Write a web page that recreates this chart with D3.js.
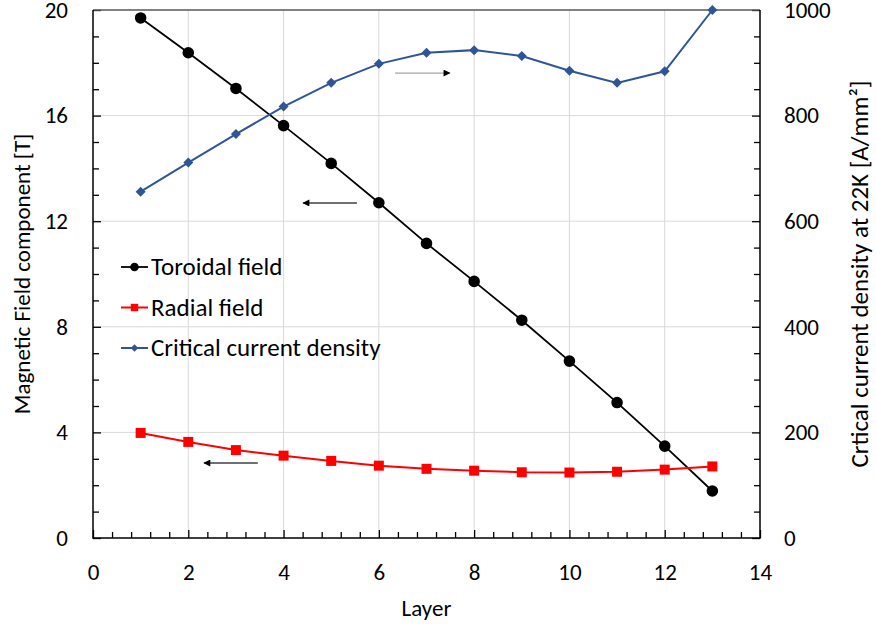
<!DOCTYPE html>
<html>
<head>
<meta charset="utf-8">
<script src="https://cdn.jsdelivr.net/npm/d3@7"></script>
<style>
  body { margin: 0; background: #fff; }
  svg text { font-family: Carlito, Lato, "Open Sans", sans-serif; fill: #000; }
</style>
</head>
<body>
<script>
// layer numbers and the three measured series
const layers = [1, 2, 3, 4, 5, 6, 7, 8, 9, 10, 11, 12, 13];
const toroidal = [19.7, 18.38, 17.03, 15.62, 14.19, 12.7, 11.16, 9.72, 8.25, 6.7, 5.13, 3.48, 1.78];
const radial = [3.98, 3.64, 3.33, 3.12, 2.92, 2.74, 2.62, 2.55, 2.49, 2.48, 2.51, 2.59, 2.71];
const jc = [656, 711, 765, 817, 862, 898, 919, 924, 913, 885, 862, 884, 1000];

const xTicks = [0, 2, 4, 6, 8, 10, 12, 14];
const yTicks = [0, 4, 8, 12, 16, 20];
const y2Ticks = [0, 200, 400, 600, 800, 1000];

const width = 876, height = 630;
const m = {left: 93, right: 116, top: 10, bottom: 92};

const svg = d3.select('body').append('svg')
    .attr('width', width)
    .attr('height', height);

const x = d3.scaleLinear().domain([0, 14]).range([m.left, width - m.right]);
const y = d3.scaleLinear().domain([0, 20]).range([height - m.bottom, m.top]);
const y2 = d3.scaleLinear().domain([0, 1000]).range([height - m.bottom, m.top]);

const x0 = x(0), x1 = x(14), yb = y(0), yt = y(20);

// gridlines
const grid = svg.append('g').attr('stroke', '#d9d9d9').attr('stroke-width', 1);
grid.selectAll('line.v').data(xTicks.slice(1, -1)).enter().append('line')
    .attr('x1', d => x(d)).attr('x2', d => x(d))
    .attr('y1', yt).attr('y2', yb);
grid.selectAll('line.h').data(yTicks.slice(1, -1)).enter().append('line')
    .attr('x1', x0).attr('x2', x1)
    .attr('y1', d => y(d)).attr('y2', d => y(d));

// axes, ticks pointing inward like the spreadsheet style
const xMinor = d3.range(0, 14.01, 0.4).filter(v => Math.abs(v / 2 - Math.round(v / 2)) > 1e-6);
const yMinor = d3.range(0, 20.01, 1).filter(v => v % 4 !== 0);

svg.append('g').attr('transform', `translate(0,${yb})`)
  .call(d3.axisBottom(x).tickValues(xMinor).tickSize(-6).tickFormat(''))
  .call(g => g.select('.domain').remove());
svg.append('g').attr('transform', `translate(0,${yb})`)
  .call(d3.axisBottom(x).tickValues(xTicks).tickSize(-8).tickPadding(26).tickFormat(d3.format('d')))
  .call(g => g.select('.domain').remove());

svg.append('g').attr('transform', `translate(${x0},0)`)
  .call(d3.axisLeft(y).tickValues(yMinor).tickSize(-6).tickFormat(''))
  .call(g => g.select('.domain').remove());
svg.append('g').attr('transform', `translate(${x0},0)`)
  .call(d3.axisLeft(y).tickValues(yTicks).tickSize(-8).tickPadding(25).tickFormat(d3.format('d')))
  .call(g => g.select('.domain').remove());

svg.append('g').attr('transform', `translate(${x1},0)`)
  .call(d3.axisRight(y2).tickValues(yMinor.map(v => v * 50)).tickSize(-6).tickFormat(''))
  .call(g => g.select('.domain').remove());
svg.append('g').attr('transform', `translate(${x1},0)`)
  .call(d3.axisRight(y2).tickValues(y2Ticks).tickSize(-8).tickPadding(24).tickFormat(d3.format('d')))
  .call(g => g.select('.domain').remove());

svg.selectAll('.tick line').attr('stroke', '#000').attr('stroke-width', 1.3);
svg.selectAll('.tick text').style('font-size', '23px');

// frame: dark left/bottom/right axes, grey top border
svg.append('line').attr('x1', x0).attr('x2', x1).attr('y1', yt).attr('y2', yt)
    .attr('stroke', '#595959').attr('stroke-width', 1.3);
svg.append('path')
    .attr('d', `M${x0},${yt}V${yb}H${x1}V${yt}`)
    .attr('fill', 'none').attr('stroke', '#000').attr('stroke-width', 1.5);

// axis titles
svg.append('text').attr('x', (x0 + x1) / 2).attr('y', 616)
    .attr('text-anchor', 'middle').style('font-size', '23px').text('Layer');
svg.append('text').attr('transform', `translate(30,${(yt + yb) / 2}) rotate(-90)`)
    .attr('text-anchor', 'middle').style('font-size', '23px').text('Magnetic Field component [T]');
svg.append('text').attr('transform', `translate(868,${(yt + yb) / 2}) rotate(-90)`)
    .attr('text-anchor', 'middle').style('font-size', '25px')
    .text('Crtical current density at 22K [A/mm²]');

// series
const diamond = d3.symbolSquare;
const series = [
  {name: 'Toroidal field', values: toroidal, scale: y, color: '#000000', shape: d3.symbolCircle, size: 105, rot: 0, width: 1.8},
  {name: 'Radial field', values: radial, scale: y, color: '#ff0000', shape: d3.symbolSquare, size: 100, rot: 0, width: 2},
  {name: 'Critical current density', values: jc, scale: y2, color: '#2f5597', shape: diamond, size: 50, rot: 45, width: 2}
];

series.forEach(s => {
  const line = d3.line().x((d, i) => x(layers[i])).y(d => s.scale(d));
  svg.append('path').attr('d', line(s.values))
      .attr('fill', 'none').attr('stroke', s.color).attr('stroke-width', s.width);
  svg.append('g').selectAll('path').data(s.values).enter().append('path')
      .attr('d', d3.symbol().type(s.shape).size(s.size))
      .attr('transform', (d, i) => `translate(${x(layers[i])},${s.scale(d)}) rotate(${s.rot})`)
      .attr('fill', s.color);
});

// arrows pointing to each series' axis
svg.append('defs').append('marker')
    .attr('id', 'arrowHead')
    .attr('viewBox', '0 0 10 10').attr('refX', 9).attr('refY', 5)
    .attr('markerWidth', 8).attr('markerHeight', 7)
    .attr('markerUnits', 'userSpaceOnUse')
    .attr('orient', 'auto')
  .append('path').attr('d', 'M0,0L10,5L0,10Z').attr('fill', '#000');

const arrows = [
  {from: [6.34, 17.61], to: [7.49, 17.61], color: '#a6a6a6'},
  {from: [5.54, 12.69], to: [4.41, 12.69], color: '#404040'},
  {from: [3.46, 2.84], to: [2.33, 2.84], color: '#404040'}
];
arrows.forEach(a => {
  svg.append('line')
      .attr('x1', x(a.from[0])).attr('y1', y(a.from[1]))
      .attr('x2', x(a.to[0])).attr('y2', y(a.to[1]))
      .attr('stroke', a.color).attr('stroke-width', 1.3)
      .attr('marker-end', 'url(#arrowHead)');
});

// legend
const legend = svg.append('g').attr('transform', 'translate(121,267)');
series.forEach((s, i) => {
  const g = legend.append('g').attr('transform', `translate(0,${i * 40.5})`);
  g.append('line').attr('x1', 0).attr('x2', 27).attr('stroke', s.color).attr('stroke-width', s.width);
  g.append('path').attr('d', d3.symbol().type(s.shape).size(s.size * 0.55))
      .attr('transform', `translate(13.5,0) rotate(${s.rot})`).attr('fill', s.color);
  g.append('text').attr('x', 30).attr('y', 8).style('font-size', '25px').text(s.name);
});
</script>
</body>
</html>
